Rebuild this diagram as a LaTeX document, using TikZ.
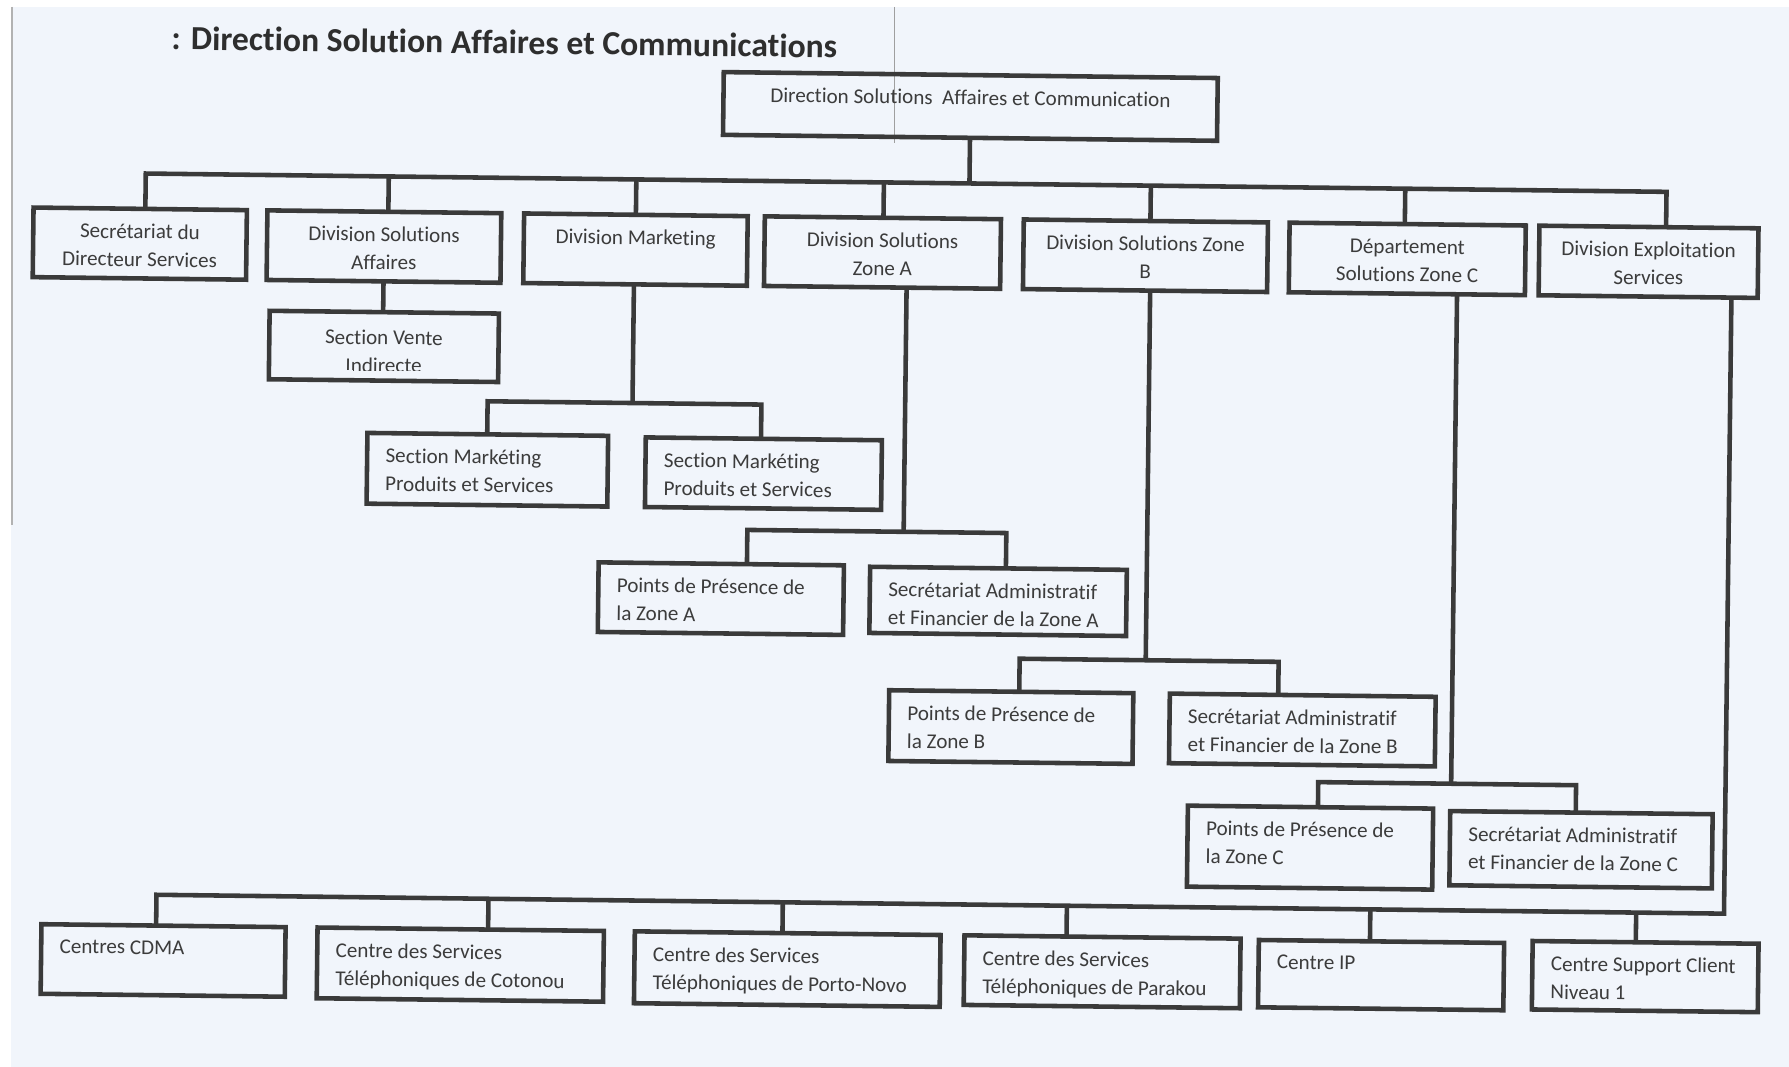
\documentclass[tikz,border=0pt]{standalone}
\usepackage{fontspec}
\setmainfont{Carlito}[Ligatures=NoCommon]
\definecolor{bgc}{HTML}{F1F5FB}
\definecolor{lnc}{HTML}{3A3A3A}
\definecolor{txc}{HTML}{3C3C3C}
\tikzset{
  orgbox/.style={draw=lnc, line width=4pt, inner sep=0pt, outer sep=0pt, rectangle},
  conn/.style={draw=lnc, line width=4pt, line join=miter},
  ctxt/.style={inner sep=0pt, align=center, text=txc, font=\fontsize{18.5}{24.5}\selectfont},
  ltxt/.style={inner sep=0pt, align=left, text=txc, font=\fontsize{18.5}{24.5}\selectfont},
}
% name, x1, y1, x2, y2, text
\newcommand\cbox[6]{%
  \node[orgbox, minimum width={(#4)-(#2)}, minimum height={(#5)-(#3)}] (#1) at ({((#2)+(#4))/2},{((#3)+(#5))/2}) {};
  \node[ctxt, anchor=north] (#1t) at ([yshift=-13pt]#1.north) {#6};}
\newcommand\lbox[6]{%
  \node[orgbox, minimum width={(#4)-(#2)}, minimum height={(#5)-(#3)}] (#1) at ({((#2)+(#4))/2},{((#3)+(#5))/2}) {};
  \node[ltxt, anchor=north west] (#1t) at ([xshift=16pt,yshift=-13pt]#1.north west) {#6};}
\begin{document}
\begin{tikzpicture}[x=1pt,y=-1pt]
\fill[bgc] (0,0) rectangle (1568,935);
\fill[white] (0,0) rectangle (1568,6);
\fill[white] (0,0) rectangle (10,935);
\useasboundingbox (0,0) rectangle (1568,935);
\draw[gray!60, line width=1.5pt] (10.5,6) -- (10.5,460);
\draw[gray!75, line width=1pt] (784,6) -- (784,125);

\begin{scope}[transform canvas={rotate around={-0.69:(784,467)}}]
% title
\node[anchor=west, inner sep=0pt, text=black!82, font=\fontsize{29.5}{34}\bfseries\selectfont] (title) at (145,41) {: Direction Solution Affaires et Communications};

% top
\cbox{T}{629.5}{65}{1062.5}{120}{Direction Solutions\ \ Affaires et Communication}

% level 1
\cbox{B1}{26}{191}{213}{252}{Secrétariat du\\Directeur Services}
\cbox{B2}{231}{191}{436}{252}{Division Solutions\\Affaires}
\cbox{B3}{456}{191}{652}{252}{Division Marketing}
\cbox{B4}{667}{191}{874}{252}{Division Solutions\\Zone A}
\cbox{B5}{894}{191}{1108}{252}{Division Solutions Zone\\B}
\cbox{B6}{1127}{191}{1334}{252}{Département\\Solutions Zone C}
\cbox{B7}{1346}{191}{1538}{252}{Division Exploitation\\Services}

% section vente (text cut by the box bottom)
\node[orgbox, minimum width=201, minimum height=60] (S1) at (334.5,309) {};
\begin{scope}
\clip ([yshift=-2pt]S1.north west) rectangle ([yshift=9pt]S1.south east);
\node[ctxt, anchor=north] (S1t) at ([yshift=-15.5pt]S1.north) {Section Vente\\Indirecte};
\end{scope}

% marketing
\lbox{M1}{321}{385}{532}{447}{Section Markéting\\Produits et Services}
\lbox{M2}{565}{386}{772}{447}{Section Markéting\\Produits et Services}

% zone A
\lbox{A1}{525}{496}{740}{557}{Points de Présence de\\la Zone A}
\lbox{A2}{763}{497}{988}{555}{Secrétariat Administratif\\et Financier de la Zone A}

% zone B
\lbox{X1}{781}{605}{995}{667}{Points de Présence de\\la Zone B}
\lbox{X2}{1027}{605}{1260}{666}{Secrétariat Administratif\\et Financier de la Zone B}

% zone C
\lbox{C1}{1044}{703}{1259}{774}{Points de Présence de\\la Zone C}
\lbox{C2}{1274}{705}{1504}{770}{Secrétariat Administratif\\et Financier de la Zone C}

% bottom row
\lbox{D1}{40.5}{819}{254.5}{880}{Centres CDMA}
\lbox{D2}{282.5}{819}{533.5}{881}{Centre des Services\\Téléphoniques de Cotonou}
\lbox{D3}{560.6}{819}{828.6}{882}{Centre des Services\\Téléphoniques de Porto-Novo}
\lbox{D4}{849.6}{819}{1091.6}{880}{Centre des Services\\Téléphoniques de Parakou}
\lbox{D5}{1107.6}{820}{1322.6}{879}{Centre IP}
\lbox{D6}{1347.6}{818}{1545.6}{878}{Centre Support Client\\Niveau 1}

% ---- connectors ----
% main bus
\coordinate (busL) at (124,160);
\coordinate (busR) at (1457,160);
\coordinate (d2) at (337,160);
\coordinate (d3) at (554,160);
\coordinate (d4) at (771,160);
\coordinate (d5) at (1005,160);
\coordinate (d6) at (1228,160);
\draw[conn] (T.south) -- (T.south |- busL);
\draw[conn] (B1.north -| busL) |- (busR) -- (B7.north -| busR);
\foreach \d/\b in {d2/B2,d3/B3,d4/B4,d5/B5,d6/B6}
  \draw[conn] (\d) -- (\b.north -| \d);

% section vente
\draw[conn] (B2.south) -- (B2.south |- S1.north);

% marketing
\coordinate (mkL) at (426,356);
\coordinate (mkR) at (666,356);
\coordinate (mkS) at (553,356);
\draw[conn] (B3.south -| mkS) -- (mkS);
\draw[conn] (M1.north -| mkL) |- (mkR) -- (M2.north -| mkR);

% zone A
\coordinate (zaL) at (655,466);
\coordinate (zaR) at (882,466);
\coordinate (zaS) at (792,466);
\draw[conn] (B4.south -| zaS) -- (zaS);
\draw[conn] (A1.north -| zaL) |- (zaR) -- (A2.north -| zaR);

% zone B
\coordinate (zbL) at (895,576);
\coordinate (zbR) at (1122,576);
\coordinate (zbS) at (1005.5,576);
\draw[conn] (B5.south -| zbS) -- (zbS);
\draw[conn] (X1.north -| zbL) |- (zbR) -- (X2.north -| zbR);

% zone C
\coordinate (zcL) at (1158,681);
\coordinate (zcR) at (1384,681);
\coordinate (zcS) at (1274.5,681);
\draw[conn] (B6.south -| zcS) -- (zcS);
\draw[conn] (C1.north -| zcL) |- (zcR) -- (C2.north -| zcR);

% exploitation bus
\coordinate (eR) at (1515,792);
\coordinate (eL) at (141,792);
\coordinate (e2) at (432,792);
\coordinate (e3) at (690,792);
\coordinate (e4) at (939,792);
\coordinate (e5) at (1205,792);
\coordinate (e6) at (1438,792);
\draw[conn] (B7.south -| eR) -- (eR) -- (eL) -- (D1.north -| eL);
\foreach \d/\b in {e2/D2,e3/D3,e4/D4,e5/D5,e6/D6}
  \draw[conn] (\d) -- (\b.north -| \d);
\end{scope}
\end{tikzpicture}
\end{document}
